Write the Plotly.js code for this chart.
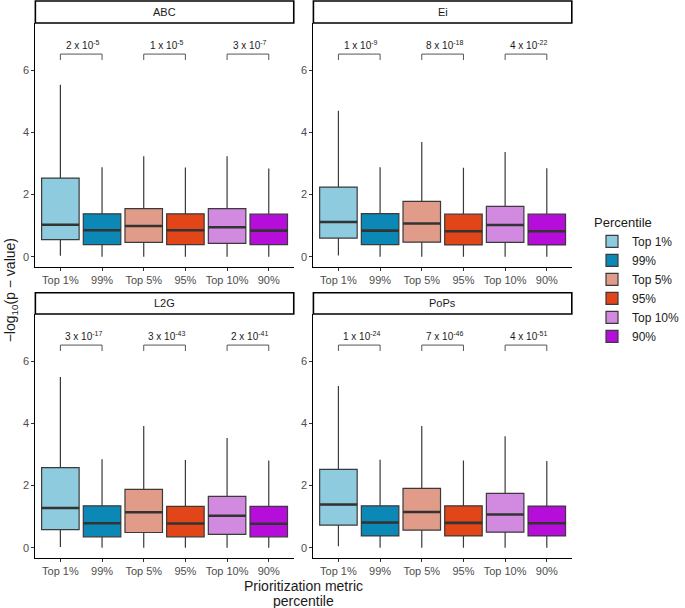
<!DOCTYPE html>
<html>
<head>
<meta charset="utf-8">
<script src="https://cdn.plot.ly/plotly-3.0.1.min.js"></script>
<style>html,body{margin:0;padding:0;background:#fff;}#chart{width:685px;height:608px;}</style>
</head>
<body>
<div id="chart"></div>
<script>
// ---------- data ----------
const panels = ['ABC', 'Ei', 'L2G', 'PoPs'];
const categories = ['Top 1%', '99%', 'Top 5%', '95%', 'Top 10%', '90%'];

const abcLower  = [0.03, 0.00, 0.00, 0.00, 0.00, 0.00];
const abcQ1     = [0.55, 0.39, 0.46, 0.39, 0.43, 0.39];
const abcMedian = [1.03, 0.85, 0.99, 0.85, 0.95, 0.84];
const abcQ3     = [2.53, 1.38, 1.55, 1.38, 1.55, 1.37];
const abcUpper  = [5.53, 2.88, 3.23, 2.87, 3.23, 2.84];

const eiLower  = [0.04, 0.00, 0.00, 0.00, 0.00, 0.00];
const eiQ1     = [0.60, 0.39, 0.47, 0.38, 0.46, 0.38];
const eiMedian = [1.12, 0.84, 1.07, 0.82, 1.02, 0.82];
const eiQ3     = [2.24, 1.39, 1.78, 1.37, 1.62, 1.37];
const eiUpper  = [4.70, 2.88, 3.69, 2.86, 3.37, 2.85];

const l2gLower  = [0.02, 0.00, 0.00, 0.00, 0.00, 0.00];
const l2gQ1     = [0.58, 0.35, 0.49, 0.35, 0.43, 0.35];
const l2gMedian = [1.28, 0.79, 1.14, 0.78, 1.03, 0.77];
const l2gQ3     = [2.58, 1.35, 1.88, 1.33, 1.65, 1.33];
const l2gUpper  = [5.49, 2.85, 3.92, 2.82, 3.53, 2.81];

const popsLower  = [0.05, 0.00, 0.00, 0.00, 0.00, 0.00];
const popsQ1     = [0.73, 0.38, 0.57, 0.38, 0.50, 0.38];
const popsMedian = [1.39, 0.81, 1.15, 0.80, 1.07, 0.79];
const popsQ3     = [2.52, 1.35, 1.91, 1.35, 1.75, 1.34];
const popsUpper  = [5.20, 2.83, 3.92, 2.81, 3.59, 2.79];

// p-values for pairs (Top 1% vs 99%, Top 5% vs 95%, Top 10% vs 90%)
const abcPMant  = [2, 1, 3];   const abcPExp  = [-5, -5, -7];
const eiPMant   = [1, 8, 4];   const eiPExp   = [-9, -18, -22];
const l2gPMant  = [3, 3, 2];   const l2gPExp  = [-17, -43, -41];
const popsPMant = [1, 7, 4];   const popsPExp = [-24, -46, -51];
const bracketLevel = [6.33, 6.52];

// ---------- styles ----------
const fills = ['#8FCBDE', '#0B88B5', '#E09C88', '#E24517', '#D18ADF', '#B70DDB'];
const FONT = 'Liberation Sans, Arial, sans-serif';

const panelStats = [
  {lo: abcLower, q1: abcQ1, med: abcMedian, q3: abcQ3, hi: abcUpper, pm: abcPMant, pe: abcPExp},
  {lo: eiLower, q1: eiQ1, med: eiMedian, q3: eiQ3, hi: eiUpper, pm: eiPMant, pe: eiPExp},
  {lo: l2gLower, q1: l2gQ1, med: l2gMedian, q3: l2gQ3, hi: l2gUpper, pm: l2gPMant, pe: l2gPExp},
  {lo: popsLower, q1: popsQ1, med: popsMedian, q3: popsQ3, hi: popsUpper, pm: popsPMant, pe: popsPExp}
];

const W = 685, H = 608;
const colPx = [[36, 299], [319, 582]];
const rowPx = [[23, 267], [314, 558]];
const stripPx = [[1, 23], [292.7, 314]];
const px2x = p => p / W;
const px2y = p => (H - p) / H;

const data = [];
const shapes = [];
const annotations = [];
const layout = {
  width: W, height: H,
  margin: {l: 0, r: 0, t: 0, b: 0},
  paper_bgcolor: '#fff', plot_bgcolor: '#fff',
  font: {family: FONT, color: '#1a1a1a'},
  showlegend: true,
  boxmode: 'overlay',
  hovermode: false,
  legend: {
    x: 603 / W, xanchor: 'left', y: px2y(210), yanchor: 'top',
    title: {text: 'Percentile', font: {size: 13, color: '#1a1a1a', family: FONT}},
    font: {size: 12, color: '#1a1a1a', family: FONT},
    bgcolor: 'rgba(0,0,0,0)', traceorder: 'normal', tracegroupgap: 4.4
  }
};

panels.forEach((name, p) => {
  const row = Math.floor(p / 2), col = p % 2;
  const ax = p === 0 ? '' : String(p + 1);
  const xa = 'x' + ax, ya = 'y' + ax;
  const st = panelStats[p];
  layout['xaxis' + ax] = {
    domain: [px2x(colPx[col][0]), px2x(colPx[col][1])],
    anchor: ya, type: 'category', categoryorder: 'array', categoryarray: categories,
    range: [-0.6, categories.length - 0.4],
    showline: true, linecolor: '#000', linewidth: 1.1, mirror: false,
    ticks: 'outside', ticklen: 3, tickcolor: '#333', tickwidth: 1,
    tickfont: {size: 11, color: '#4d4d4d', family: FONT},
    showgrid: false, zeroline: false, fixedrange: true
  };
  layout['yaxis' + ax] = {
    domain: [px2y(rowPx[row][1]), px2y(rowPx[row][0])],
    anchor: xa, range: [-0.33, 7.52],
    tickvals: [0, 2, 4, 6],
    showline: true, linecolor: '#000', linewidth: 1.1,
    ticks: 'outside', ticklen: 3, tickcolor: '#333', tickwidth: 1,
    tickfont: {size: 11, color: '#4d4d4d', family: FONT},
    showgrid: false, zeroline: false, fixedrange: true
  };

  categories.forEach((c, i) => {
    data.push({
      type: 'box', xaxis: xa, yaxis: ya,
      name: c, legendgroup: c, showlegend: p === 0,
      x: [c], q1: [st.q1[i]], median: [st.med[i]], q3: [st.q3[i]],
      lowerfence: [st.lo[i]], upperfence: [st.hi[i]],
      boxpoints: false, width: 0.9, whiskerwidth: 0,
      fillcolor: fills[i],
      line: {color: '#3a3a3a', width: 1.2}
    });
    // thicker median bar (as in ggplot)
    shapes.push({
      type: 'line', xref: xa, yref: ya,
      x0: i - 0.45, x1: i + 0.45, y0: st.med[i], y1: st.med[i],
      line: {color: '#333', width: 2.6}, layer: 'above'
    });
  });

  // significance brackets
  for (let k = 0; k < 3; k++) {
    const a = 2 * k, b = 2 * k + 1;
    shapes.push({
      type: 'path', xref: xa, yref: ya,
      path: `M ${a} ${bracketLevel[0]} L ${a} ${bracketLevel[1]} L ${b} ${bracketLevel[1]} L ${b} ${bracketLevel[0]}`,
      line: {color: '#555', width: 1}
    });
    annotations.push({
      xref: xa, yref: ya, x: (a + b) / 2 + 0.05, y: bracketLevel[1] + 0.02,
      xanchor: 'center', yanchor: 'bottom', showarrow: false,
      text: `${st.pm[k]} x 10<sup>${st.pe[k]}</sup>`,
      font: {size: 10, color: '#1a1a1a', family: FONT}
    });
  }

  // facet strip
  shapes.push({
    type: 'rect', xref: 'paper', yref: 'paper',
    x0: px2x(colPx[col][0]), x1: px2x(colPx[col][1]),
    y0: px2y(stripPx[row][1]), y1: px2y(stripPx[row][0]),
    fillcolor: '#fff', line: {color: '#000', width: 1.6}
  });
  annotations.push({
    xref: 'paper', yref: 'paper',
    x: px2x((colPx[col][0] + colPx[col][1]) / 2), y: px2y((stripPx[row][0] + stripPx[row][1]) / 2),
    xanchor: 'center', yanchor: 'middle', showarrow: false,
    text: name, font: {size: 11, color: '#1a1a1a', family: FONT}
  });
});

// axis titles
annotations.push({
  xref: 'paper', yref: 'paper', x: px2x(11), y: px2y(290.5),
  xanchor: 'center', yanchor: 'middle', showarrow: false, textangle: -90,
  text: '\u2212log<sub>10</sub>(p \u2212 value)',
  font: {size: 14, color: '#1a1a1a', family: FONT}
});
annotations.push({
  xref: 'paper', yref: 'paper', x: px2x(309), y: px2y(585.7),
  xanchor: 'center', yanchor: 'middle', showarrow: false,
  text: 'Prioritization metric',
  font: {size: 14, color: '#1a1a1a', family: FONT}
});
annotations.push({
  xref: 'paper', yref: 'paper', x: px2x(309), y: px2y(601.3),
  xanchor: 'center', yanchor: 'middle', showarrow: false,
  text: 'percentile',
  font: {size: 14, color: '#1a1a1a', family: FONT}
});

layout.shapes = shapes;
layout.annotations = annotations;

Plotly.newPlot('chart', data, layout, {staticPlot: true, displayModeBar: false});
</script>
</body>
</html>
